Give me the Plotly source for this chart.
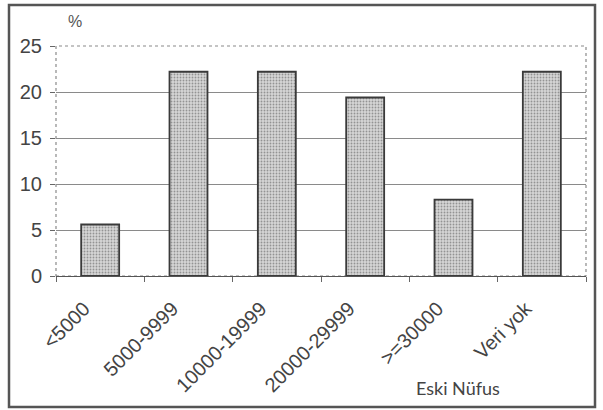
import plotly.graph_objects as go

categories = ["<5000", "5000-9999", "10000-19999", "20000-29999", ">=30000", "Veri yok"]
values = [5.6, 22.2, 22.2, 19.4, 8.3, 22.2]
y_ticks = [0, 5, 10, 15, 20, 25]

W, H = 603, 410
L, R, T, B = 56, 586, 46, 276  # plot area in pixels


def px_to_paper(x, y):
    return (x - L) / (R - L), (B - y) / (B - T)


fig = go.Figure(
    go.Bar(
        x=categories,
        y=values,
        marker=dict(
            color="#bdbdbd",
            line=dict(color="#3a3a3a", width=1.8),
            pattern=dict(shape=".", fgcolor="#505050", bgcolor="#d6d6d6", size=3, solidity=0.3),
        ),
        width=0.43,
    )
)

fx0, fy0 = px_to_paper(9, 407)
fx1, fy1 = px_to_paper(595, 5)

fig.update_layout(
    width=W,
    height=H,
    margin=dict(l=L, r=W - R, t=T, b=H - B, autoexpand=False),
    paper_bgcolor="white",
    plot_bgcolor="white",
    showlegend=False,
    font=dict(family="Liberation Sans, Arial, sans-serif", color="#444444", size=20),
    xaxis=dict(
        type="category",
        tickangle=-45,
        tickson="boundaries",
        ticks="outside",
        ticklen=5,
        tickcolor="#666666",
        showline=True,
        linecolor="#555555",
        linewidth=1.2,
        showgrid=False,
        tickfont=dict(size=20, color="#444444"),
        ticklabelstandoff=12,
        ticklabelshift=-16,
        range=[-0.5, 5.5],
        automargin=False,
    ),
    yaxis=dict(
        range=[0, 25],
        tickvals=y_ticks,
        ticks="outside",
        ticklen=5,
        tickcolor="#666666",
        showgrid=True,
        gridcolor="#8a8a8a",
        gridwidth=1,
        zeroline=False,
        showline=False,
        tickfont=dict(size=20, color="#444444"),
        ticklabelstandoff=4,
        automargin=False,
    ),
    shapes=[
        dict(
            type="rect", xref="paper", yref="paper", x0=0, y0=0, x1=1, y1=1,
            line=dict(color="#8a8a8a", width=1.2, dash="dot"), layer="below",
        ),
        dict(
            type="rect", xref="paper", yref="paper", x0=fx0, y0=fy0, x1=fx1, y1=fy1,
            line=dict(color="#555555", width=2.5),
        ),
    ],
    annotations=[
        dict(
            text="%", xref="paper", yref="paper",
            x=px_to_paper(75, 22)[0], y=px_to_paper(75, 22)[1],
            showarrow=False, font=dict(size=16, color="#555555"),
            xanchor="center", yanchor="middle",
        ),
        dict(
            text="Eski Nüfus", xref="paper", yref="paper",
            x=px_to_paper(458, 388)[0], y=px_to_paper(458, 388)[1],
            showarrow=False, font=dict(family="Lato, sans-serif", size=18, color="#444444"),
            xanchor="center", yanchor="middle",
        ),
    ],
)

fig.write_html(
    "out.html",
    config={"displayModeBar": False},
    post_script="document.body.style.margin='0';document.body.style.padding='0';",
)
